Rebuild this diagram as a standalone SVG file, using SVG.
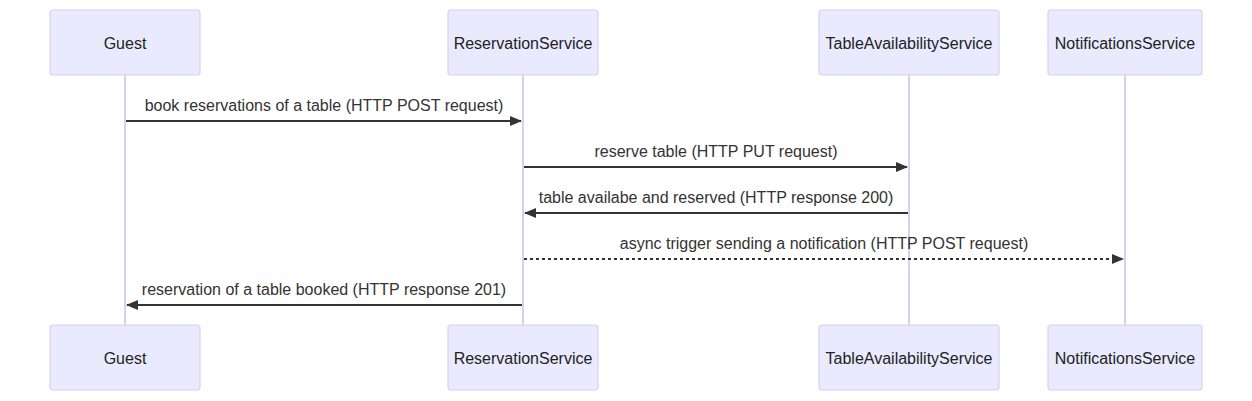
<svg xmlns="http://www.w3.org/2000/svg" width="1252" height="401" viewBox="0 0 1252 401">
<style>
.actor{fill:#eaeaff;stroke:#dacef3;stroke-width:1.2}
.atext{font-family:"Liberation Sans",Arial,sans-serif;font-size:16px;fill:#222;text-anchor:middle;dominant-baseline:central}
.life{stroke:#dacef3;stroke-width:2;fill:none}
.msg{stroke:#333;stroke-width:2;fill:none}
.dot{stroke-dasharray:3 3}
.mtext{font-family:"Liberation Sans",Arial,sans-serif;font-size:16px;fill:#333;text-anchor:middle}
</style>
<defs>
<marker id="arrow" viewBox="0 0 12 10" refX="11" refY="5" markerWidth="12" markerHeight="10" markerUnits="userSpaceOnUse" orient="auto">
<path d="M0,0 L12,5 L0,10 z" fill="#333"/>
</marker>
</defs>
<g id="lifelines">
<line class="life" x1="125" y1="75" x2="125" y2="325"/>
<line class="life" x1="523" y1="75" x2="523" y2="325"/>
<line class="life" x1="909" y1="75" x2="909" y2="325"/>
<line class="life" x1="1125" y1="75" x2="1125" y2="325"/>
</g>
<g id="guest-top"><rect class="actor" x="50" y="10" width="150" height="65" rx="3"/><text class="atext" x="125" y="43">Guest</text></g>
<g id="reservation-top"><rect class="actor" x="448" y="10" width="150" height="65" rx="3"/><text class="atext" x="523" y="43">ReservationService</text></g>
<g id="table-top"><rect class="actor" x="819" y="10" width="180" height="65" rx="3"/><text class="atext" x="909" y="43">TableAvailabilityService</text></g>
<g id="notif-top"><rect class="actor" x="1048" y="10" width="154" height="65" rx="3"/><text class="atext" x="1125" y="43">NotificationsService</text></g>
<g id="guest-bottom"><rect class="actor" x="50" y="325" width="150" height="65" rx="3"/><text class="atext" x="125" y="358">Guest</text></g>
<g id="reservation-bottom"><rect class="actor" x="448" y="325" width="150" height="65" rx="3"/><text class="atext" x="523" y="358">ReservationService</text></g>
<g id="table-bottom"><rect class="actor" x="819" y="325" width="180" height="65" rx="3"/><text class="atext" x="909" y="358">TableAvailabilityService</text></g>
<g id="notif-bottom"><rect class="actor" x="1048" y="325" width="154" height="65" rx="3"/><text class="atext" x="1125" y="358">NotificationsService</text></g>
<g id="connectors">
<line class="msg" x1="126" y1="121" x2="521" y2="121" marker-end="url(#arrow)"/>
<text class="mtext" x="324" y="111">book reservations of a table (HTTP POST request)</text>
<line class="msg" x1="524" y1="167" x2="907" y2="167" marker-end="url(#arrow)"/>
<text class="mtext" x="716" y="157">reserve table (HTTP PUT request)</text>
<line class="msg" x1="908" y1="213" x2="525" y2="213" marker-end="url(#arrow)"/>
<text class="mtext" x="716" y="203">table availabe and reserved (HTTP response 200)</text>
<line class="msg dot" x1="524" y1="259" x2="1123" y2="259" marker-end="url(#arrow)"/>
<text class="mtext" x="824" y="249">async trigger sending a notification (HTTP POST request)</text>
<line class="msg" x1="522" y1="305" x2="127" y2="305" marker-end="url(#arrow)"/>
<text class="mtext" x="324" y="295">reservation of a table booked (HTTP response 201)</text>
</g>
</svg>
